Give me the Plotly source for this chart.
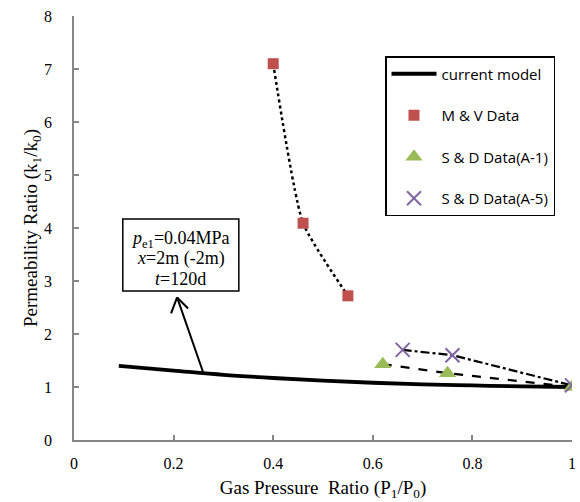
import plotly.graph_objects as go

# current model curve
model_x = [0.09, 0.2, 0.3, 0.4, 0.5, 0.6, 0.7, 0.8, 0.9, 1.0]
model_y = [1.40, 1.31, 1.23, 1.17, 1.12, 1.08, 1.05, 1.03, 1.01, 1.00]

# M & V Data
mv_x = [0.40, 0.46, 0.55]
mv_y = [7.10, 4.09, 2.72]

# S & D Data(A-1)
a1_x = [0.62, 0.75, 1.0]
a1_y = [1.43, 1.26, 1.0]

# S & D Data(A-5)
a5_x = [0.66, 0.76, 1.0]
a5_y = [1.70, 1.60, 1.03]

x_ticks = [0, 0.2, 0.4, 0.6, 0.8, 1]
x_tick_labels = ["0", "0.2", "0.4", "0.6", "0.8", "1"]
y_ticks = [0, 1, 2, 3, 4, 5, 6, 7, 8]

note_lines = ["<i>p</i><sub>e1</sub>=0.04MPa", "<i>x</i>=2m (-2m)", "<i>t</i>=120d"]
note_y = [3.79, 3.42, 3.04]
note_x = 0.214
note_box = dict(x0=0.098, x1=0.331, y0=2.81, y1=4.17)
arrow_tip = (0.207, 2.69)
arrow_tail = (0.26, 1.26)

serif = "Liberation Serif"
sans = "Open Sans"
axis_grey = "#868686"

# layout geometry: labels sit on free axes a few px outside the visible axis lines
W, H = 580, 502
LABEL_GAP_X = 22   # px between y-axis line and label axis
LABEL_GAP_Y = 12   # px between x-axis line and label axis
ML, MR, MT, MB = 74 - LABEL_GAP_X, 8, 16, 62 - LABEL_GAP_Y
x_dom0 = LABEL_GAP_X / (W - ML - MR)
y_dom0 = LABEL_GAP_Y / (H - MT - MB)

fig = go.Figure()

# connecting lines (no legend)
fig.add_trace(go.Scatter(x=mv_x, y=mv_y, mode="lines",
                         line=dict(color="black", width=2.5, dash="dot", shape="spline", smoothing=0.5),
                         showlegend=False, hoverinfo="skip"))
fig.add_trace(go.Scatter(x=a1_x, y=a1_y, mode="lines", line=dict(color="black", width=2.2, dash="dash"),
                         showlegend=False, hoverinfo="skip"))
fig.add_trace(go.Scatter(x=a5_x, y=a5_y, mode="lines", line=dict(color="black", width=2.2, dash="dashdot"),
                         showlegend=False, hoverinfo="skip"))

fig.add_trace(go.Scatter(x=model_x, y=model_y, mode="lines", name="current model",
                         line=dict(color="black", width=3.8, shape="spline"), legendgroup="g1"))
fig.add_trace(go.Scatter(x=mv_x, y=mv_y, mode="markers", name="M & V Data",
                         marker=dict(symbol="square", size=11, color="#C0504D"), legendgroup="g2"))
fig.add_trace(go.Scatter(x=a1_x, y=a1_y, mode="markers", name="S & D Data(A-1)",
                         marker=dict(symbol="triangle-up", size=15, color="#9BBB59"), legendgroup="g3"))
fig.add_trace(go.Scatter(x=a5_x, y=a5_y, mode="markers", name="S & D Data(A-5)",
                         marker=dict(symbol="x-thin", size=14, line=dict(color="#8064A2", width=2), color="#8064A2"),
                         legendgroup="g4"))

# empty trace on the overlay axes that draw the visible axis lines and inside ticks
fig.add_trace(go.Scatter(x=[None], y=[None], xaxis="x2", yaxis="y2", showlegend=False, hoverinfo="skip"))

# arrow shaft
fig.add_annotation(x=arrow_tip[0], y=arrow_tip[1], ax=arrow_tail[0], ay=arrow_tail[1],
                   xref="x", yref="y", axref="x", ayref="y",
                   text="", showarrow=True, arrowhead=0, arrowwidth=2, arrowcolor="black")
# open chevron arrowhead (pixel offsets anchored at the tip)
for dx, dy in [(-6, -16), (11, -11)]:
    fig.add_shape(type="line", xref="x", yref="y", xsizemode="pixel", ysizemode="pixel",
                  xanchor=arrow_tip[0], yanchor=arrow_tip[1], x0=0, y0=0, x1=dx, y1=dy,
                  line=dict(color="black", width=2))

# note box
fig.add_shape(type="rect", xref="x", yref="y", **note_box,
              line=dict(color="black", width=1.5), fillcolor="white", layer="above")
for txt, yy in zip(note_lines, note_y):
    fig.add_annotation(x=note_x, y=yy, xref="x", yref="y", showarrow=False, text=txt,
                       font=dict(family=serif, size=18, color="black"))

legend_left_px, legend_top_px = 385, 56

fig.update_layout(
    width=W, height=H,
    margin=dict(l=ML, r=MR, t=MT, b=MB),
    plot_bgcolor="white", paper_bgcolor="white",
    font=dict(family=serif, size=16, color="black"),
    legend=dict(x=(legend_left_px - ML) / (W - ML - MR), y=(H - MB - legend_top_px) / (H - MT - MB),
                xanchor="left", yanchor="top", bordercolor="black", borderwidth=1.5,
                bgcolor="white", font=dict(family=sans, size=15, color="black"), tracegroupgap=19,
                traceorder="grouped", itemwidth=45),
    # label-bearing axes (no lines), placed at the outer edge of the plotting area
    xaxis=dict(range=[0, 1], domain=[x_dom0, 1], anchor="free", position=0,
               tickvals=x_ticks, ticktext=x_tick_labels, showgrid=False, zeroline=False,
               showline=False, ticks="", automargin=False,
               title=dict(text="Gas Pressure  Ratio (P<sub>1</sub>/P<sub>0</sub>)", standoff=9),
               tickfont=dict(family=serif, size=16)),
    yaxis=dict(range=[0, 8], domain=[y_dom0, 1], anchor="free", position=0,
               tickvals=y_ticks, showgrid=False, zeroline=False,
               showline=False, ticks="", automargin=False,
               title=dict(text="Permeability Ratio (k<sub>1</sub>/k<sub>0</sub>)", standoff=0),
               tickfont=dict(family=serif, size=16)),
    # visible axis lines with inside tick marks
    xaxis2=dict(range=[0, 1], tickvals=x_ticks, overlaying="x", anchor="y", side="bottom",
                showticklabels=False, showgrid=False, zeroline=False, showline=True,
                linecolor=axis_grey, linewidth=1.5,
                ticks="inside", tickcolor=axis_grey, ticklen=5, tickwidth=1.5, automargin=False),
    yaxis2=dict(range=[0, 8], tickvals=y_ticks, overlaying="y", anchor="x", side="left",
                showticklabels=False, showgrid=False, zeroline=False, showline=True,
                linecolor=axis_grey, linewidth=1.5,
                ticks="inside", tickcolor=axis_grey, ticklen=5, tickwidth=1.5, automargin=False),
)

fig.write_html("out.html", post_script="document.body.style.margin='0';",
               config={"displayModeBar": False})
